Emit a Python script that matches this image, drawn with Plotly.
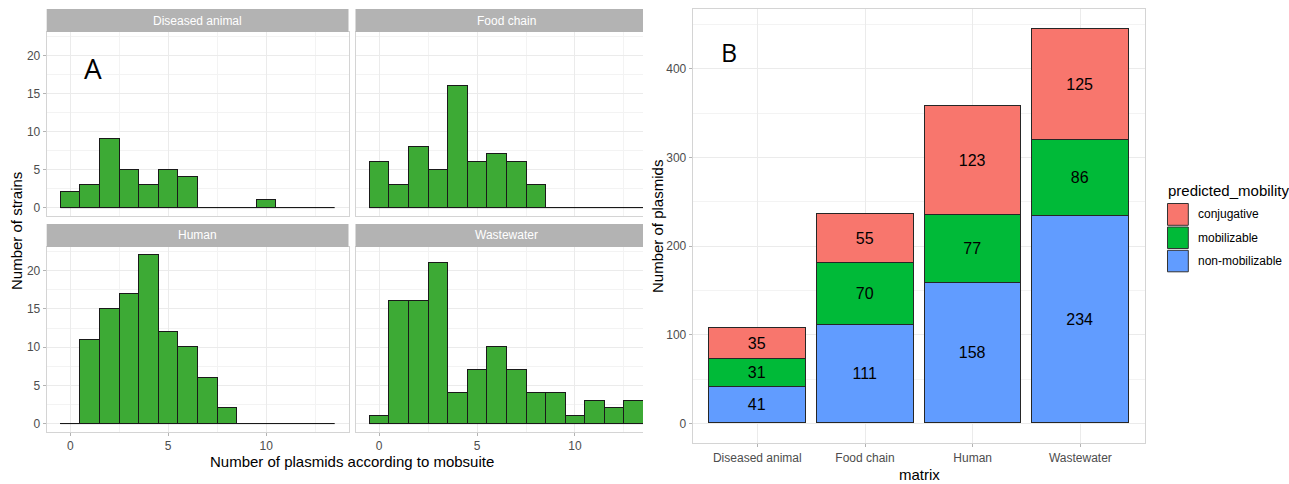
import plotly.graph_objects as go

# ---- data -------------------------------------------------------------
plasmid_bins = list(range(14))  # number of plasmids per strain (bin centres)
diseased_animal = [2, 3, 9, 5, 3, 5, 4, 0, 0, 0, 1, 0, 0, 0]
food_chain = [6, 3, 8, 5, 16, 6, 7, 6, 3, 0, 0, 0, 0, 0]
human = [0, 11, 15, 17, 22, 12, 10, 6, 2, 0, 0, 0, 0, 0]
wastewater = [1, 16, 16, 21, 4, 7, 10, 7, 4, 4, 1, 3, 2, 3]

matrix = ["Diseased animal", "Food chain", "Human", "Wastewater"]
non_mobilizable = [41, 111, 158, 234]
mobilizable = [31, 70, 77, 86]
conjugative = [35, 55, 123, 125]

hist_ticks = [0, 5, 10]
count_ticks = [0, 5, 10, 15, 20]
plasmid_ticks = [0, 100, 200, 300, 400]

# ---- style ------------------------------------------------------------
W, H = 1289, 484
FONT = "Liberation Sans, Arial, sans-serif"
HIST_FILL = "#3DAA35"
EDGE = "#1A1A1A"
GRID = "#EBEBEB"
MINOR = "#F3F3F3"
BORDER = "#D4D4D4"
TICKTXT = "#4D4D4D"
STRIP = "#B3B3B3"
MOB_COLORS = {"conjugative": "#F8766D", "mobilizable": "#00BA38",
              "non-mobilizable": "#619CFF"}


def px(x):
    return x / W


def py(y):
    return 1 - y / H


fig = go.Figure()

# facet panels: (name, counts, axis suffix, x px span, y px span, full width?)
upper = (32, 216)
lower = (247, 432)
left_x = (46.7, 348.5)
right_x = (355.5, 643)
panels = [
    ("Diseased animal", diseased_animal, "", left_x, upper, True, True, False),
    ("Food chain", food_chain, "2", right_x, upper, False, False, False),
    ("Human", human, "3", left_x, lower, True, True, True),
    ("Wastewater", wastewater, "4", right_x, lower, False, False, True),
]

unit_px = (left_x[1] - left_x[0]) / 15.4
shapes = []
annotations = []

for name, counts, sfx, xs, ys, full, show_y, show_x in panels:
    xa = "x" + sfx
    ya = "y" + sfx
    lo = plasmid_bins[0] - 0.5
    hi = plasmid_bins[-1] + 0.5
    # baseline for empty bins
    fig.add_trace(go.Scatter(x=[lo, hi], y=[0, 0], mode="lines",
                             line=dict(color=EDGE, width=1), xaxis=xa, yaxis=ya,
                             showlegend=False, hoverinfo="skip"))
    fig.add_trace(go.Bar(x=plasmid_bins, y=counts, width=1,
                         marker=dict(color=HIST_FILL, line=dict(color=EDGE, width=1)),
                         xaxis=xa, yaxis=ya, showlegend=False))
    xmax = -1.2 + (xs[1] - xs[0]) / unit_px
    xkey = "xaxis" + sfx
    ykey = "yaxis" + sfx
    fig.layout[xkey] = dict(
        domain=[px(xs[0]), px(xs[1])], anchor=ya, range=[-1.2, xmax],
        tickvals=hist_ticks, showticklabels=show_x,
        ticks="outside" if show_x else "", ticklen=3, tickcolor="#B3B3B3",
        tickfont=dict(family=FONT, size=12, color=TICKTXT),
        showgrid=True, gridcolor=GRID, gridwidth=1, zeroline=False,
        minor=dict(dtick=2.5, tick0=0, showgrid=True, gridcolor=MINOR, gridwidth=1),
        showline=True, linecolor=BORDER, linewidth=1, mirror=True,
    )
    fig.layout[ykey] = dict(
        domain=[py(ys[1]), py(ys[0])], anchor=xa, range=[-1.1, 23.1],
        tickvals=count_ticks, showticklabels=show_y,
        ticks="outside" if show_y else "", ticklen=3, tickcolor="#B3B3B3",
        tickfont=dict(family=FONT, size=12, color=TICKTXT),
        showgrid=True, gridcolor=GRID, gridwidth=1, zeroline=False,
        minor=dict(dtick=2.5, tick0=0, showgrid=True, gridcolor=MINOR, gridwidth=1),
        showline=True, linecolor=BORDER, linewidth=1, mirror=full,
    )
    # strip header
    strip_top = ys[0] - 23
    shapes.append(dict(type="rect", xref="paper", yref="paper",
                       x0=px(xs[0]), x1=px(xs[1]), y0=py(ys[0]), y1=py(strip_top),
                       fillcolor=STRIP, line=dict(width=0), layer="above"))
    annotations.append(dict(text=name, xref="paper", yref="paper",
                            x=px((xs[0] + xs[0] + 15.4 * unit_px) / 2),
                            y=py((ys[0] + strip_top) / 2), showarrow=False,
                            font=dict(family=FONT, size=12, color="white"),
                            xanchor="center", yanchor="middle"))

# ---- stacked bar panel ------------------------------------------------
for label, vals in (("non-mobilizable", non_mobilizable),
                    ("mobilizable", mobilizable),
                    ("conjugative", conjugative)):
    fig.add_trace(go.Bar(
        x=matrix, y=vals, name=label, width=0.9, text=[str(v) for v in vals],
        textposition="inside", insidetextanchor="middle", constraintext="none",
        textfont=dict(family=FONT, size=16, color="black"),
        marker=dict(color=MOB_COLORS[label], line=dict(color="#262626", width=1)),
        xaxis="x5", yaxis="y5", showlegend=False))

bx = (692.7, 1145)
by = (9.3, 443.3)
fig.layout["xaxis5"] = dict(
    domain=[px(bx[0]), px(bx[1])], anchor="y5", type="category",
    range=[-0.6, 3.6], ticks="outside", ticklen=3, tickcolor="#B3B3B3",
    tickfont=dict(family=FONT, size=12, color=TICKTXT),
    showgrid=True, gridcolor=GRID, zeroline=False,
    showline=True, linecolor=BORDER, linewidth=1, mirror=True,
)
fig.layout["yaxis5"] = dict(
    domain=[py(by[1]), py(by[0])], anchor="x5", range=[-22.25, 467.25],
    tickvals=plasmid_ticks, ticks="outside", ticklen=3, tickcolor="#B3B3B3",
    tickfont=dict(family=FONT, size=12, color=TICKTXT),
    showgrid=True, gridcolor=GRID, zeroline=False,
    minor=dict(dtick=50, tick0=0, showgrid=True, gridcolor=MINOR, gridwidth=1),
    showline=True, linecolor=BORDER, linewidth=1, mirror=True,
)

# ---- legend (drawn by hand to get ggplot-sized keys) -------------------
annotations.append(dict(text="predicted_mobility", xref="paper", yref="paper",
                        x=px(1166), y=py(190), xanchor="left", yanchor="middle",
                        showarrow=False, font=dict(family=FONT, size=15, color="black")))
key_rows = [("conjugative", 203.5, 225.3), ("mobilizable", 227.0, 248.5),
            ("non-mobilizable", 250.3, 271.8)]
for label, y0, y1 in key_rows:
    shapes.append(dict(type="rect", xref="paper", yref="paper",
                       x0=px(1167.5), x1=px(1188.3), y0=py(y1), y1=py(y0),
                       fillcolor=MOB_COLORS[label], line=dict(color="#333333", width=1)))
    annotations.append(dict(text=label, xref="paper", yref="paper",
                            x=px(1196), y=py((y0 + y1) / 2), xanchor="left",
                            yanchor="middle", showarrow=False,
                            font=dict(family=FONT, size=12, color="black")))

# ---- titles and panel letters -----------------------------------------
annotations += [
    dict(text="Number of plasmids according to mobsuite", xref="paper", yref="paper",
         x=px(352), y=py(461), showarrow=False, xanchor="center", yanchor="middle",
         font=dict(family=FONT, size=15, color="black")),
    dict(text="Number of strains", xref="paper", yref="paper", x=px(16), y=py(231),
         textangle=-90, showarrow=False, xanchor="center", yanchor="middle",
         font=dict(family=FONT, size=15, color="black")),
    dict(text="matrix", xref="paper", yref="paper", x=px(919), y=py(474),
         showarrow=False, xanchor="center", yanchor="middle",
         font=dict(family=FONT, size=15, color="black")),
    dict(text="Number of plasmids", xref="paper", yref="paper", x=px(657), y=py(227),
         textangle=-90, showarrow=False, xanchor="center", yanchor="middle",
         font=dict(family=FONT, size=15, color="black")),
    dict(text="A", xref="paper", yref="paper", x=px(93), y=py(68), showarrow=False,
         xanchor="center", yanchor="middle",
         font=dict(family="Open Sans, Liberation Sans, sans-serif", size=28, color="black")),
    dict(text="B", xref="paper", yref="paper", x=px(729), y=py(52), showarrow=False,
         xanchor="center", yanchor="middle",
         font=dict(family="Open Sans, Liberation Sans, sans-serif", size=25, color="black")),
]

fig.update_layout(
    width=W, height=H, margin=dict(l=0, r=0, t=0, b=0),
    paper_bgcolor="white", plot_bgcolor="white",
    barmode="stack", bargap=0, showlegend=False,
    shapes=shapes, annotations=annotations,
    font=dict(family=FONT),
)

fig.write_html("out.html")
